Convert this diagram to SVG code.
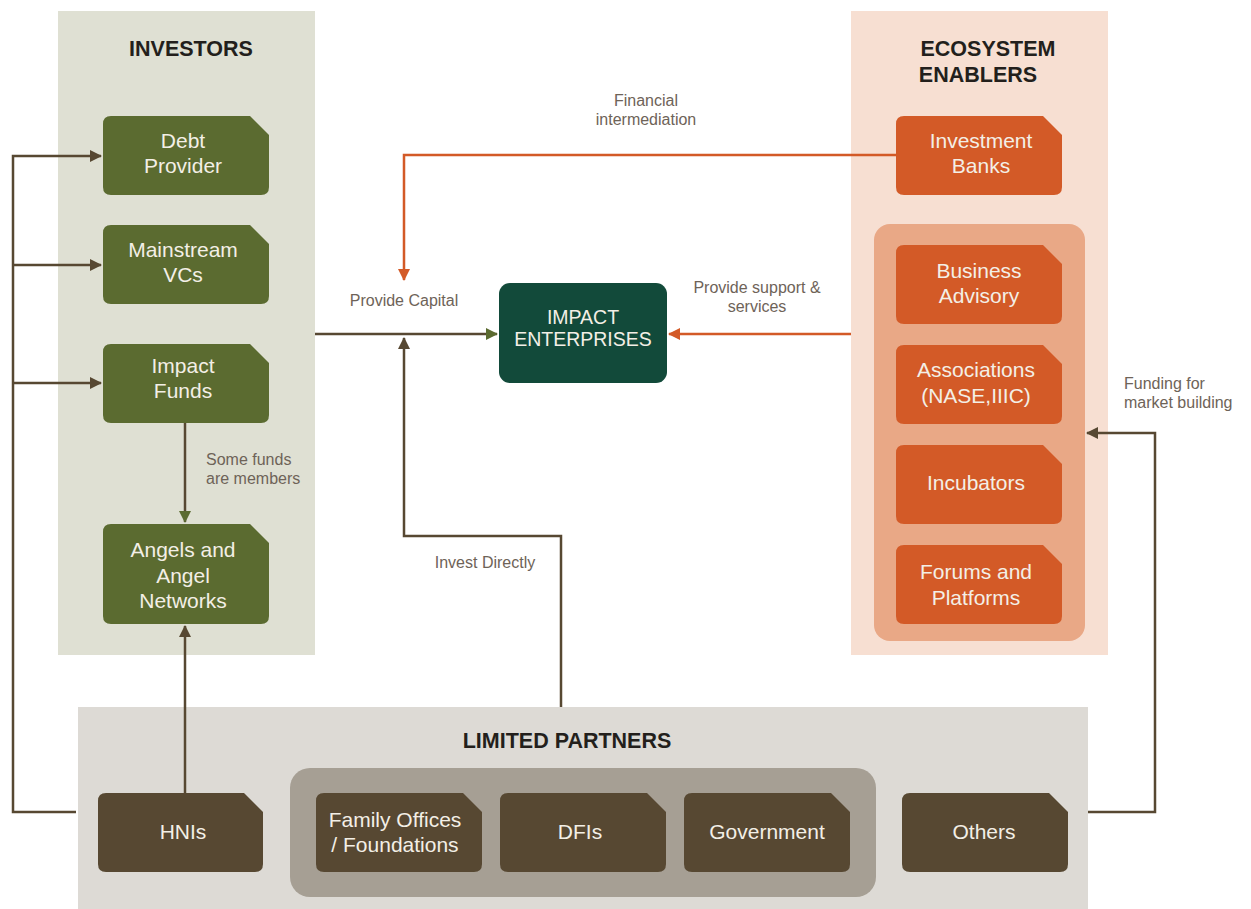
<svg xmlns="http://www.w3.org/2000/svg" width="1251" height="909" viewBox="0 0 1251 909">
<style>
.nt{font-family:"Liberation Sans",Arial,sans-serif;font-size:21px;fill:#f3efe6;text-anchor:middle}
.hd{font-family:"Liberation Sans",Arial,sans-serif;font-size:21.5px;font-weight:bold;fill:#231f1c;text-anchor:middle}
.lb{font-family:"Liberation Sans",Arial,sans-serif;font-size:16px;fill:#6e6358}
.g{fill:#5b6b30}.o{fill:#d35a27}.b{fill:#574832}
.ln{fill:none;stroke-width:2.5}
.br{stroke:#574832}.or{stroke:#d35a27}
</style>
<defs>
<marker id="ab" markerUnits="userSpaceOnUse" markerWidth="14" markerHeight="14" refX="11" refY="7" orient="auto"><path d="M0,1 L12,7 L0,13 Z" fill="#574832"/></marker>
<marker id="ag" markerUnits="userSpaceOnUse" markerWidth="14" markerHeight="14" refX="11" refY="7" orient="auto"><path d="M0,1 L12,7 L0,13 Z" fill="#5b6b30"/></marker>
<marker id="ao" markerUnits="userSpaceOnUse" markerWidth="14" markerHeight="14" refX="11" refY="7" orient="auto"><path d="M0,1 L12,7 L0,13 Z" fill="#d35a27"/></marker>
</defs>
<rect width="1251" height="909" fill="#ffffff"/>
<g id="panels">
<rect x="58" y="11" width="257" height="644" fill="#dfe0d3"/>
<rect x="851" y="11" width="257" height="644" fill="#f7dfd2"/>
<rect x="874" y="224" width="211" height="417" rx="16" fill="#e9a886"/>
<rect x="78" y="707" width="1010" height="202" fill="#dddad5"/>
<rect x="290" y="768" width="586" height="129" rx="20" fill="#a69f94"/>
<text class="hd" x="191" y="56">INVESTORS</text>
<text class="hd" x="988" y="56">ECOSYSTEM</text>
<text class="hd" x="978" y="82">ENABLERS</text>
<text class="hd" x="567" y="748">LIMITED PARTNERS</text>
</g>
<g id="connectors">
<path class="ln br" d="M76,812 H13 V156 H101" marker-end="url(#ab)"/>
<path class="ln br" d="M13,265 H101" marker-end="url(#ab)"/>
<path class="ln br" d="M13,383 H101" marker-end="url(#ab)"/>
<path class="ln br" d="M185,423 V522" marker-end="url(#ag)"/>
<path class="ln br" d="M185,793 V626" marker-end="url(#ab)"/>
<path class="ln br" d="M315,334 H497" marker-end="url(#ag)"/>
<path class="ln br" d="M561,707 V536 H404 V338" marker-end="url(#ab)"/>
<path class="ln or" d="M896,155 H404 V280" marker-end="url(#ao)"/>
<path class="ln or" d="M851,334 H669" marker-end="url(#ao)"/>
<path class="ln br" d="M1088,812 H1155 V433 H1087" marker-end="url(#ab)"/>
<text class="lb" x="646" y="106" text-anchor="middle">Financial</text>
<text class="lb" x="646" y="125" text-anchor="middle">intermediation</text>
<text class="lb" x="404" y="306" text-anchor="middle">Provide Capital</text>
<text class="lb" x="757" y="293" text-anchor="middle">Provide support &amp;</text>
<text class="lb" x="757" y="312" text-anchor="middle">services</text>
<text class="lb" x="206" y="465">Some funds</text>
<text class="lb" x="206" y="484">are members</text>
<text class="lb" x="485" y="568" text-anchor="middle">Invest Directly</text>
<text class="lb" x="1124" y="389">Funding for</text>
<text class="lb" x="1124" y="408">market building</text>
</g>
<g id="debt-provider"><path class="g" d="M111,116 H250 L269,135 V187 Q269,195 261,195 H111 Q103,195 103,187 V124 Q103,116 111,116 Z"/><text class="nt" x="183" y="148">Debt</text><text class="nt" x="183" y="173">Provider</text></g>
<g id="mainstream-vcs"><path class="g" d="M111,225 H250 L269,244 V296 Q269,304 261,304 H111 Q103,304 103,296 V233 Q103,225 111,225 Z"/><text class="nt" x="183" y="257">Mainstream</text><text class="nt" x="183" y="282">VCs</text></g>
<g id="impact-funds"><path class="g" d="M111,344 H250 L269,363 V415 Q269,423 261,423 H111 Q103,423 103,415 V352 Q103,344 111,344 Z"/><text class="nt" x="183" y="373">Impact</text><text class="nt" x="183" y="398">Funds</text></g>
<g id="angels"><path class="g" d="M111,524 H250 L269,543 V616 Q269,624 261,624 H111 Q103,624 103,616 V532 Q103,524 111,524 Z"/><text class="nt" x="183" y="557">Angels and</text><text class="nt" x="183" y="583">Angel</text><text class="nt" x="183" y="608">Networks</text></g>
<g id="impact-enterprises"><rect x="499" y="283" width="168" height="100" rx="11" fill="#124a3a"/><text class="nt" x="583" y="324" style="font-size:19.5px">IMPACT</text><text class="nt" x="583" y="346" style="font-size:19.5px">ENTERPRISES</text></g>
<g id="investment-banks"><path class="o" d="M904,116 H1043 L1062,135 V187 Q1062,195 1054,195 H904 Q896,195 896,187 V124 Q896,116 904,116 Z"/><text class="nt" x="981" y="148">Investment</text><text class="nt" x="981" y="173">Banks</text></g>
<g id="business-advisory"><path class="o" d="M904,245 H1043 L1062,264 V316 Q1062,324 1054,324 H904 Q896,324 896,316 V253 Q896,245 904,245 Z"/><text class="nt" x="979" y="278">Business</text><text class="nt" x="979" y="303">Advisory</text></g>
<g id="associations"><path class="o" d="M904,345 H1043 L1062,364 V416 Q1062,424 1054,424 H904 Q896,424 896,416 V353 Q896,345 904,345 Z"/><text class="nt" x="976" y="377">Associations</text><text class="nt" x="976" y="403">(NASE,IIIC)</text></g>
<g id="incubators"><path class="o" d="M904,445 H1043 L1062,464 V516 Q1062,524 1054,524 H904 Q896,524 896,516 V453 Q896,445 904,445 Z"/><text class="nt" x="976" y="490">Incubators</text></g>
<g id="forums"><path class="o" d="M904,545 H1043 L1062,564 V616 Q1062,624 1054,624 H904 Q896,624 896,616 V553 Q896,545 904,545 Z"/><text class="nt" x="976" y="579">Forums and</text><text class="nt" x="976" y="605">Platforms</text></g>
<g id="hnis"><path class="b" d="M106,793 H244 L263,812 V864 Q263,872 255,872 H106 Q98,872 98,864 V801 Q98,793 106,793 Z"/><text class="nt" x="183" y="839">HNIs</text></g>
<g id="family-offices"><path class="b" d="M324,793 H463 L482,812 V864 Q482,872 474,872 H324 Q316,872 316,864 V801 Q316,793 324,793 Z"/><text class="nt" x="395" y="827">Family Offices</text><text class="nt" x="395" y="852">/ Foundations</text></g>
<g id="dfis"><path class="b" d="M508,793 H647 L666,812 V864 Q666,872 658,872 H508 Q500,872 500,864 V801 Q500,793 508,793 Z"/><text class="nt" x="580" y="839">DFIs</text></g>
<g id="government"><path class="b" d="M692,793 H831 L850,812 V864 Q850,872 842,872 H692 Q684,872 684,864 V801 Q684,793 692,793 Z"/><text class="nt" x="767" y="839">Government</text></g>
<g id="others"><path class="b" d="M910,793 H1049 L1068,812 V864 Q1068,872 1060,872 H910 Q902,872 902,864 V801 Q902,793 910,793 Z"/><text class="nt" x="984" y="839">Others</text></g>
</svg>
